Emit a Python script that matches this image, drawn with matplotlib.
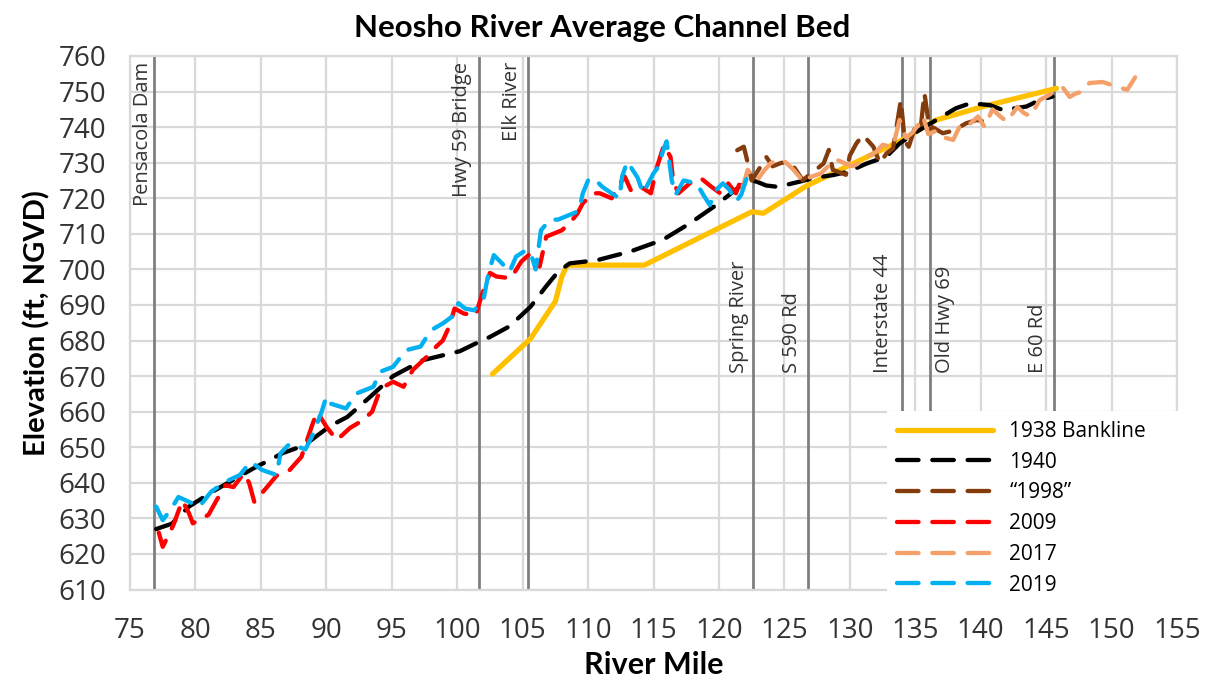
import matplotlib
matplotlib.use("Agg")
import matplotlib.pyplot as plt

# ---- data (river mile, elevation ft NGVD) ----
bank_mi = [102.7, 105.6, 107.5, 108.0, 108.4, 114.3, 122.5, 123.4, 126.7, 133.8, 136.6, 140.4, 145.8]
bank_el = [670.6, 680.5, 691.0, 698.0, 701.2, 701.2, 716.2, 715.8, 723.5, 736.0, 742.0, 746.0, 750.9]

y1940_mi = [77.0, 78.2, 79.5, 81.3, 84.4, 86.7, 88.3, 90.3, 91.6, 93.3, 95.1, 97.4, 100.2, 101.6,
            102.5, 104.0, 105.6, 106.7, 107.7, 108.6, 110.7, 113.2, 115.7, 117.8, 119.6, 120.8,
            121.9, 122.8, 123.6, 124.5, 126.2, 127.2, 128.7, 129.9, 131.3, 132.8, 133.8, 135.1,
            136.6, 138.1, 139.2, 140.7, 141.7, 143.5, 144.5, 145.5]
y1940_el = [627.0, 628.5, 633.3, 637.5, 644.0, 648.4, 650.5, 656.0, 658.5, 664.0, 670.0, 674.5,
            677.0, 679.5, 681.0, 684.0, 689.5, 694.8, 699.3, 701.7, 702.6, 705.0, 708.3, 713.0,
            717.6, 721.0, 724.2, 724.8, 723.6, 723.2, 724.7, 725.7, 726.5, 727.5, 729.8, 731.7,
            735.4, 738.7, 742.0, 745.3, 746.7, 746.2, 744.8, 745.8, 747.6, 748.6]

y1998_mi = [121.4, 121.9, 122.2, 122.5, 123.2, 123.6, 124.1, 124.8, 125.6, 126.4, 127.4, 128.0,
            128.4, 128.7, 129.7, 130.0, 130.5, 131.0, 131.8, 132.3, 132.8, 133.3, 133.7, 133.9,
            134.2, 134.5, 135.0, 135.4, 135.7, 136.1, 136.3, 137.1, 137.9, 138.9, 139.7, 140.4]
y1998_el = [733.5, 734.5, 730.0, 725.0, 729.0, 731.7, 729.0, 730.0, 729.5, 725.1, 728.0, 729.8,
            733.6, 728.0, 726.6, 732.0, 735.4, 737.8, 734.5, 729.8, 732.6, 734.0, 743.0, 747.6,
            736.0, 734.5, 740.1, 739.2, 749.6, 739.2, 740.0, 738.3, 739.0, 741.1, 742.0, 741.5]

y2009_mi = [77.2, 77.5, 78.3, 79.0, 79.5, 79.8, 81.0, 81.6, 82.3, 82.9, 83.7, 84.1, 84.5, 85.4,
            86.2, 87.2, 88.1, 88.9, 89.3, 90.0, 90.8, 91.8, 92.8, 93.5, 94.0, 94.4, 95.1, 95.9,
            96.6, 97.7, 98.4, 98.9, 99.4, 99.8, 100.5, 101.4, 101.9, 102.5, 103.0, 104.1, 104.9,
            105.6, 105.9, 106.3, 106.8, 108.0, 108.6, 109.2, 109.6, 110.4, 110.9, 111.8, 112.3,
            112.8, 113.3, 114.0, 114.8, 115.2, 115.8, 116.3, 116.5, 116.9, 117.8, 118.6, 119.4,
            120.1, 120.7, 121.3, 121.7, 122.0]
y2009_el = [626.0, 622.0, 628.0, 635.0, 631.5, 628.6, 631.0, 635.0, 639.3, 638.8, 642.7, 640.0,
            634.6, 638.5, 642.0, 643.6, 647.3, 656.0, 660.0, 655.8, 652.0, 655.4, 657.6, 660.0,
            665.0, 667.0, 668.4, 667.0, 671.7, 675.5, 678.3, 680.0, 684.0, 689.0, 687.6, 687.0,
            693.0, 699.0, 698.0, 697.5, 702.2, 704.5, 704.5, 700.8, 709.2, 711.0, 713.0, 715.8,
            718.6, 721.4, 721.4, 720.0, 723.3, 726.1, 722.0, 723.3, 721.4, 728.0, 735.0, 731.6,
            725.0, 721.4, 724.3, 725.7, 723.3, 721.4, 724.2, 721.4, 725.5, 724.0]

y2017_mi = [121.8, 122.2, 122.9, 123.5, 124.0, 124.9, 125.7, 126.5, 127.0, 127.8, 128.9, 129.5,
            130.2, 130.8, 131.5, 132.0, 132.5, 133.3, 133.8, 134.3, 134.8, 135.2, 135.6, 136.0,
            136.6, 137.3, 137.9, 138.5, 139.2, 139.8, 140.3, 140.9, 141.5, 142.0, 142.8, 143.3,
            143.8, 144.5, 145.2, 145.5, 146.3, 146.8, 147.3, 147.8, 148.3, 149.3, 149.9, 150.4,
            151.2, 151.8]
y2017_el = [723.0, 728.0, 725.0, 728.0, 730.0, 730.8, 728.0, 724.5, 726.0, 727.0, 731.0, 730.0,
            729.0, 730.0, 732.0, 733.0, 735.0, 734.5, 742.0, 737.0, 738.5, 740.5, 743.0, 738.0,
            739.0, 737.0, 736.4, 741.0, 741.0, 743.0, 740.0, 745.0, 743.0, 741.5, 745.7, 744.0,
            743.0, 747.6, 749.0, 749.6, 751.0, 748.5, 749.5, 750.0, 752.4, 752.7, 752.0, 751.3,
            750.5, 754.0]

y2019_mi = [77.0, 77.5, 78.1, 78.7, 79.3, 80.3, 81.2, 82.3, 83.4, 84.2, 85.1, 86.2, 86.5, 87.2,
            88.4, 88.9, 89.6, 90.0, 90.3, 91.5, 92.3, 93.6, 94.1, 95.1, 96.1, 97.2, 98.0, 98.9,
            99.6, 100.1, 100.6, 101.3, 102.0, 102.4, 102.8, 103.4, 104.0, 104.5, 105.3, 105.7,
            106.0, 106.4, 107.1, 107.7, 108.9, 109.3, 109.6, 110.0, 110.4, 111.1, 111.8, 112.4,
            112.6, 113.0, 113.8, 114.2, 115.0, 115.4, 115.7, 116.0, 116.4, 116.7, 117.3, 118.3,
            118.8, 119.3, 119.8, 120.3, 120.8, 121.3, 121.7, 122.2]
y2019_el = [633.3, 629.5, 632.4, 636.0, 635.0, 633.3, 637.5, 640.3, 642.2, 645.9, 643.6, 642.2,
            648.3, 651.0, 649.4, 653.0, 659.5, 664.2, 662.3, 660.9, 665.1, 667.0, 671.2, 672.6,
            677.3, 678.3, 682.9, 684.8, 686.7, 690.5, 689.0, 688.5, 691.4, 699.0, 704.0, 701.8,
            699.3, 703.6, 705.5, 703.6, 700.0, 711.0, 714.0, 714.0, 715.8, 716.5, 721.4, 725.0,
            725.7, 723.2, 721.4, 720.0, 726.1, 730.3, 725.7, 721.4, 727.0, 729.0, 733.0, 736.0,
            725.0, 721.0, 725.0, 724.2, 721.0, 718.1, 722.4, 724.2, 722.4, 719.0, 721.0, 726.5]

landmarks = ["Pensacola Dam", "Hwy 59 Bridge", "Elk River", "Spring River", "S 590 Rd",
             "Interstate 44", "Old Hwy 69", "E 60 Rd"]
landmark_mi = [76.8, 101.7, 105.4, 122.6, 126.8, 134.0, 136.1, 145.6]

# ---- figure ----
LABEL_FONT = ["Open Sans", "DejaVu Sans"]
BOLD_FONT = ["Lato", "DejaVu Sans"]

fig = plt.figure(figsize=(12.14, 6.82), dpi=100)
ax = fig.add_axes([130 / 1214, 1 - 589.5 / 682, 1047 / 1214, 533.5 / 682])

ax.set_xlim(75, 155)
ax.set_ylim(610, 760)
ax.set_xticks(range(75, 156, 5))
ax.set_yticks(range(610, 761, 10))
ax.grid(True, color="#d9d9d9", lw=1.6)
ax.set_axisbelow(True)
for s in ax.spines.values():
    s.set_color("#d9d9d9")
    s.set_linewidth(1.6)
ax.tick_params(length=0, labelsize=20, labelcolor="#333333")
ax.tick_params(axis="x", pad=20)
ax.tick_params(axis="y", pad=17)
for lbl in ax.get_xticklabels() + ax.get_yticklabels():
    lbl.set_family(LABEL_FONT)

# landmark lines and labels
for name, mi in zip(landmarks, landmark_mi):
    ax.axvline(mi, color="#7f7f7f", lw=2, zorder=2)
upper = {"Pensacola Dam": 76.0, "Hwy 59 Bridge": 100.4, "Elk River": 104.2}
lower = {"Spring River": 121.5, "S 590 Rd": 125.6, "Interstate 44": 132.5,
         "Old Hwy 69": 137.3, "E 60 Rd": 144.4}
for name, x in upper.items():
    ax.text(x, 758.3, name, rotation=90, ha="center", va="top", fontsize=14.5,
            family=LABEL_FONT, color="#333333", zorder=3)
for name, x in lower.items():
    ax.text(x, 671.0, name, rotation=90, ha="center", va="bottom", fontsize=14.5,
            family=LABEL_FONT, color="#333333", zorder=3)

# series
dash = dict(lw=3.1, ls=(0, (5, 3.2)), dash_capstyle="round", zorder=4)
ax.plot(bank_mi, bank_el, color="#ffc000", lw=3.8, solid_capstyle="round",
        label="1938 Bankline", zorder=4)
ax.plot(y1940_mi, y1940_el, color="#000000", label="1940", **dash)
ax.plot(y1998_mi, y1998_el, color="#843c0c", label="\u201c1998\u201d", **dash)
ax.plot(y2009_mi, y2009_el, color="#ff0000", label="2009", **dash)
ax.plot(y2017_mi, y2017_el, color="#f4a06a", label="2017", **dash)
ax.plot(y2019_mi, y2019_el, color="#00b0f0", label="2019", **dash)

leg = ax.legend(loc="upper left", bbox_to_anchor=(877 / 1214, 1 - 401 / 682, 325 / 1214, 0.0),
                bbox_transform=fig.transFigure, mode="expand", frameon=True,
                facecolor="white", edgecolor="white", framealpha=1, fancybox=False,
                handlelength=4.6, handletextpad=0.8, labelspacing=0.47, borderpad=0.45,
                prop={"family": LABEL_FONT, "size": 15})
leg.get_frame().set_linewidth(0)
leg.set_zorder(10)

fig.text(602 / 1214, 1 - 28 / 682, "Neosho River Average Channel Bed", fontsize=22.5,
         fontweight="bold", family=BOLD_FONT, ha="center", va="center")
ax.set_xlabel("River Mile", fontsize=22, fontweight="bold", family=BOLD_FONT, labelpad=4)
ax.set_ylabel("Elevation (ft, NGVD)", fontsize=21, fontweight="bold", family=BOLD_FONT,
              labelpad=6)

fig.savefig("out.png", dpi=100)
